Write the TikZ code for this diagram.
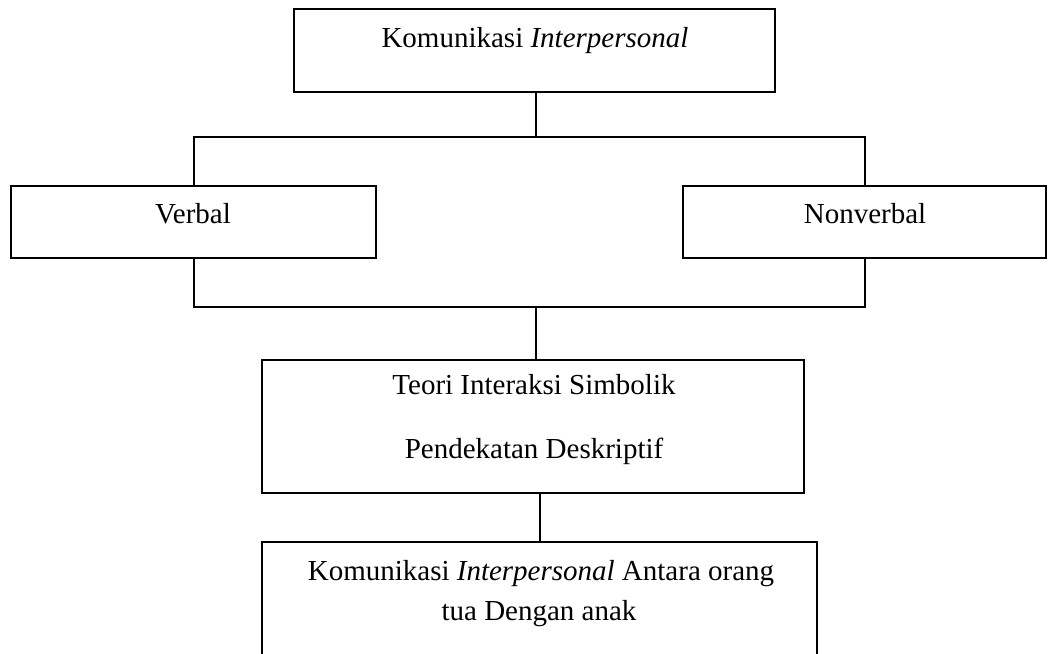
\documentclass[tikz,border=0pt]{standalone}
\usepackage{fontspec}
\setmainfont{Liberation Serif}
\begin{document}
\begin{tikzpicture}[x=0.5pt,y=-0.5pt,
  box/.style={draw=black, line width=1pt, inner sep=0pt, fill=none},
  lbl/.style={anchor=base, inner sep=0pt, font=\fontsize{14.5}{17}\selectfont},
  conn/.style={draw=black, line width=1pt}]
\useasboundingbox (0,0) rectangle (1048,653);
\clip (0,0) rectangle (1048,653);
% boxes
\node[box, minimum width=240.5pt, minimum height=41.5pt] (top) at (534.5,50.5) {};
\node[box, minimum width=182.5pt, minimum height=36pt] (verbal) at (193.5,222) {};
\node[box, minimum width=181.5pt, minimum height=36pt] (nonverbal) at (864.5,222) {};
\node[box, minimum width=271pt, minimum height=66.5pt] (teori) at (533,426.5) {};
\node[box, minimum width=277.5pt, minimum height=69pt] (bottom) at (539.5,611) {};
% texts
\node[lbl] (ttop) at (535,47) {Komunikasi \textit{Interpersonal}};
\node[lbl] (tverbal) at (193,223) {Verbal};
\node[lbl] (tnonverbal) at (865,223) {Nonverbal};
\node[lbl] (tteori1) at (534,394) {Teori Interaksi Simbolik};
\node[lbl] (tteori2) at (534,458) {Pendekatan Deskriptif};
\node[lbl] (tbottom1) at (541,580) {Komunikasi \textit{Interpersonal} Antara orang};
\node[lbl] (tbottom2) at (539,620) {tua Dengan anak};
% junctions
\coordinate (j1) at (536,137);
\coordinate (j2) at (536,307);
\coordinate (j3) at (540,0);
% connectors
\draw[conn] (top.south -| j1) -- (j1);
\draw[conn] (verbal.north) |- (j1) -| (nonverbal.north);
\draw[conn] (verbal.south) |- (j2) -| (nonverbal.south);
\draw[conn] (j2) -- (j2 |- teori.north);
\draw[conn] (teori.south -| j3) -- (bottom.north -| j3);
\end{tikzpicture}
\end{document}
